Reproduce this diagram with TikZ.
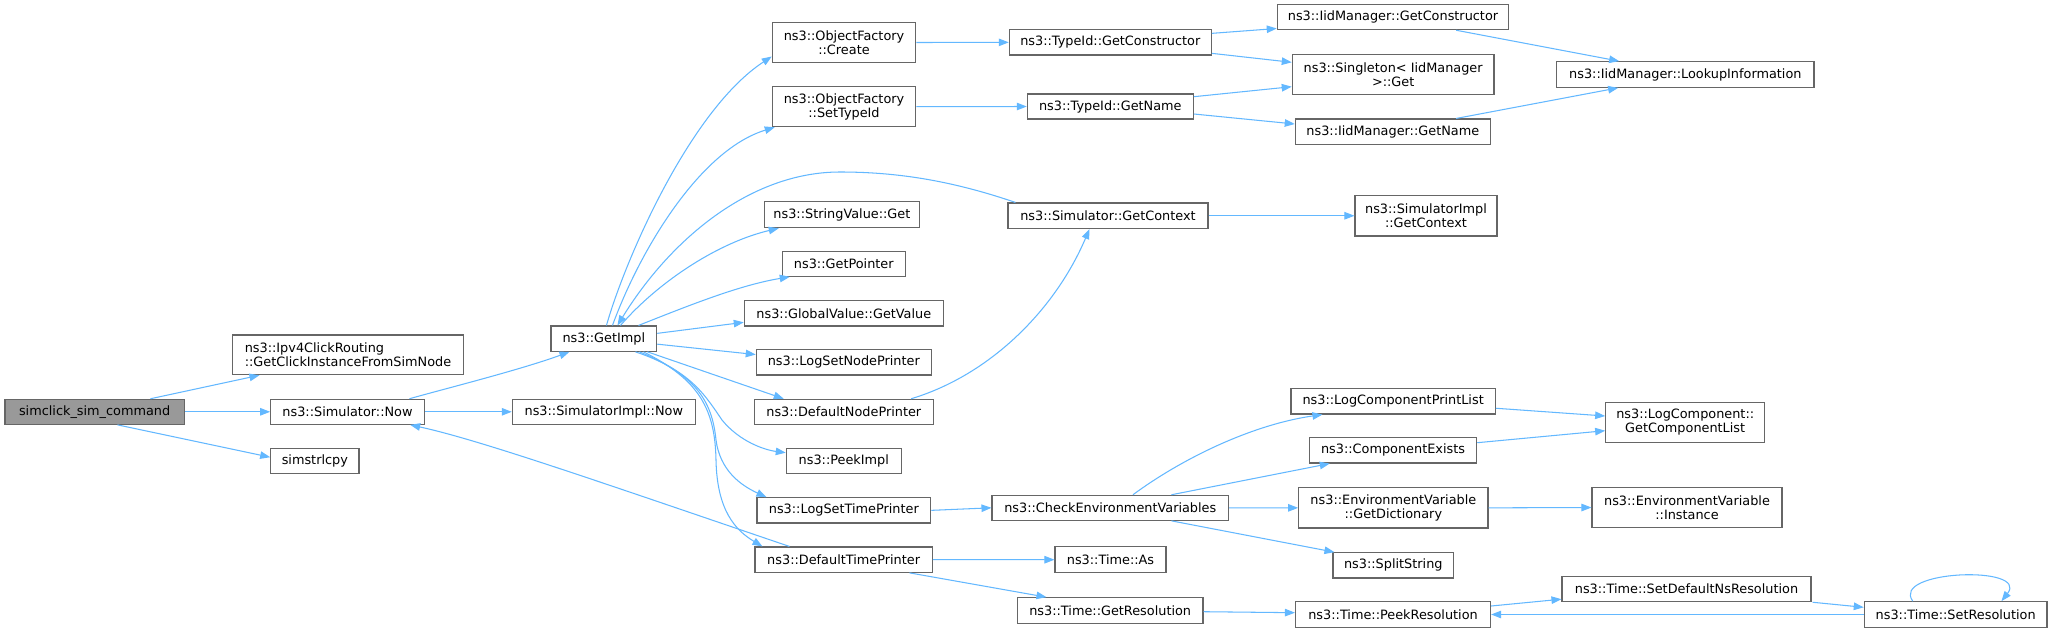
\documentclass[tikz,border=0pt]{standalone}
\usepackage{fontspec}
\setmainfont{DejaVu Sans}
\usetikzlibrary{arrows.meta}
\definecolor{edgeblue}{HTML}{63B8FF}
\definecolor{boxgray}{HTML}{666666}
\definecolor{rootfill}{HTML}{999999}
\newcommand\mkbox[7][]{\node[box,#1,minimum width={(#5)-(#3)},minimum height={(#6)-(#4)}] (#2) at ({((#3)+(#5))/2},{((#4)+(#6))/2}) {#7};}
\tikzset{
  box/.style={draw=boxgray, line width=1.1pt, fill=white, inner sep=0pt, align=center,
    font=\fontsize{12.85}{14}\selectfont},
  root/.style={fill=rootfill},
  edge/.style={draw=edgeblue, line width=1.05pt, -{Triangle[length=10pt,width=7.5pt]}}
}
\begin{document}
\begin{tikzpicture}[x=1pt,y=-1pt]
\fill[white] (0,0) rectangle (2051,632);
\useasboundingbox (0,0) rectangle (2051,632);
% nodes
\mkbox[root]{sim}{5}{399.3}{184.3}{424.3}{simclick\_sim\_command}
\mkbox[align=left]{ipv4}{232.7}{335}{463.3}{374.7}{ns3::Ipv4ClickRouting\\::GetClickInstanceFromSimNode}
\mkbox{now}{270.7}{399.3}{424.3}{424.3}{ns3::Simulator::Now}
\mkbox{strl}{270.7}{448.7}{359}{473.7}{simstrlcpy}
\mkbox{impl}{551}{326}{656.7}{351.3}{ns3::GetImpl}
\mkbox{sin}{512.3}{399.3}{695.3}{424.3}{ns3::SimulatorImpl::Now}
\mkbox{create}{772.3}{22.7}{915.7}{62.3}{ns3::ObjectFactory\\::Create}
\mkbox{settype}{772.3}{86.7}{915.7}{126.7}{ns3::ObjectFactory\\::SetTypeId}
\mkbox{strget}{764.3}{201.7}{919.5}{227.7}{ns3::StringValue::Get}
\mkbox{getptr}{782.3}{251.3}{905.3}{276.3}{ns3::GetPointer}
\mkbox{gval}{744.3}{300.7}{943.3}{326}{ns3::GlobalValue::GetValue}
\mkbox{lsnp}{756.3}{349.7}{931.3}{375}{ns3::LogSetNodePrinter}
\mkbox{dnp}{754.3}{399.3}{933.3}{424.3}{ns3::DefaultNodePrinter}
\mkbox{peek}{786.3}{448.7}{901.3}{473.7}{ns3::PeekImpl}
\mkbox{lstp}{757}{497.7}{930.7}{523}{ns3::LogSetTimePrinter}
\mkbox{dtp}{755}{547}{932.3}{572.3}{ns3::DefaultTimePrinter}
\mkbox{tgc}{1009.3}{29.7}{1211.3}{55}{ns3::TypeId::GetConstructor}
\mkbox{tgn}{1027.3}{94}{1193.3}{119}{ns3::TypeId::GetName}
\mkbox{sgc}{1008}{203}{1208}{228.5}{ns3::Simulator::GetContext}
\mkbox{cev}{992}{495.3}{1228.6}{520.3}{ns3::CheckEnvironmentVariables}
\mkbox{tas}{1055}{546.7}{1166}{572.7}{ns3::Time::As}
\mkbox{tgr}{1017.4}{597.7}{1203}{623.3}{ns3::Time::GetResolution}
\mkbox{igc}{1277.3}{4.3}{1508.7}{29.7}{ns3::IidManager::GetConstructor}
\mkbox{sing}{1292.3}{54.3}{1494}{94.7}{ns3::Singleton< IidManager\\>::Get}
\mkbox{ign}{1295.3}{119}{1490.3}{144.7}{ns3::IidManager::GetName}
\mkbox{sigc}{1355}{195.5}{1497}{236}{ns3::SimulatorImpl\\::GetContext}
\mkbox{lcpl}{1291}{388.3}{1495.3}{414}{ns3::LogComponentPrintList}
\mkbox{cex}{1309.3}{437.7}{1476.7}{463}{ns3::ComponentExists}
\mkbox{evgd}{1298.7}{487.7}{1488}{528}{ns3::EnvironmentVariable\\::GetDictionary}
\mkbox{split}{1333}{552.7}{1453.6}{578}{ns3::SplitString}
\mkbox{peekres}{1295.5}{601.7}{1490.6}{627.3}{ns3::Time::PeekResolution}
\mkbox{lookup}{1556.7}{61.7}{1814}{87.3}{ns3::IidManager::LookupInformation}
\mkbox{gcl}{1605.7}{402.3}{1764.7}{442.7}{ns3::LogComponent::\\GetComponentList}
\mkbox{evinst}{1592}{487.7}{1782}{527.3}{ns3::EnvironmentVariable\\::Instance}
\mkbox{sdns}{1562}{576.7}{1811}{601.7}{ns3::Time::SetDefaultNsResolution}
\mkbox{setres}{1864.3}{601.7}{2047}{627.3}{ns3::Time::SetResolution}
% edges
\draw[edge] ([xshift=146pt]sim.north west) -- ([xshift=27.3pt]ipv4.south west);
\draw[edge] (sim.east) -- (now.west);
\draw[edge] ([xshift=113pt]sim.south west) -- ([yshift=4pt]strl.west);
\draw[edge] ([xshift=139.3pt]now.north west) .. controls (440,390) and (520,370) .. ([xshift=19pt]impl.south west);
\draw[edge] (now.east) -- (sin.west);
\draw[edge] ([xshift=56pt]impl.north west) .. controls (625,260) and (690,110) .. ([yshift=-14pt]create.west);
\draw[edge] ([xshift=62pt]impl.north west) .. controls (640,250) and (700,150) .. ([xshift=3pt]settype.south west);
\draw[edge] ([xshift=8pt]sgc.north west) .. controls (950,180) and (895,172) .. (840,172) .. controls (750,172) and (670,240) .. ([xshift=67pt]impl.north west);
\draw[edge] ([xshift=70pt]impl.north west) .. controls (660,280) and (720,242) .. ([xshift=15pt]strget.south west);
\draw[edge] ([xshift=88pt]impl.north west) .. controls (690,305) and (740,285) .. ([xshift=8pt]getptr.south west);
\draw[edge] ([yshift=5.3pt]impl.east) -- ([yshift=-9pt]gval.west);
\draw[edge] ([yshift=-5.5pt]impl.east) -- ([yshift=7.8pt]lsnp.west);
\draw[edge] ([xshift=97pt]impl.south west) -- ([xshift=30pt]dnp.north west);
\draw[edge] ([xshift=85pt]impl.south west) .. controls (690,370) and (705,395) .. (722,420) .. controls (740,442) and (765,450) .. ([yshift=8.5pt]peek.west);
\draw[edge] ([xshift=89pt]impl.south west) .. controls (695,375) and (712,400) .. (716,440) .. controls (720,470) and (740,485) .. ([xshift=10pt]lstp.north west);
\draw[edge] ([xshift=93pt]impl.south west) .. controls (700,380) and (715,410) .. (716,460) .. controls (717,510) and (735,530) .. ([xshift=8pt]dtp.north west);
\draw[edge] ([xshift=35pt]dtp.north west) .. controls (600,482) and (480,440) .. ([xshift=140pt]now.south west);
\draw[edge] (create.east) -- (tgc.west);
\draw[edge] (settype.east) -- (tgn.west);
\draw[edge] ([yshift=9pt]tgc.east) -- ([yshift=-11.5pt]igc.west);
\draw[edge] ([yshift=-11pt]tgc.east) -- ([yshift=12.2pt]sing.west);
\draw[edge] ([yshift=9.8pt]tgn.east) -- ([yshift=-12.2pt]sing.west);
\draw[edge] ([yshift=-7.5pt]tgn.east) -- ([yshift=7.85pt]ign.west);
\draw[edge] ([xshift=179.4pt]igc.south west) -- ([xshift=63pt]lookup.north west);
\draw[edge] ([xshift=161.4pt]ign.north west) -- ([xshift=62pt]lookup.south west);
\draw[edge] (sgc.east) -- (sigc.west);
\draw[edge] ([xshift=157.4pt]dnp.north west) .. controls (990,375) and (1055,310) .. ([xshift=82pt]sgc.south west);
\draw[edge] (lstp.east) -- (cev.west);
\draw[edge] ([xshift=141.5pt]cev.north west) .. controls (1180,460) and (1250,425) .. ([xshift=32pt]lcpl.south west);
\draw[edge] ([xshift=180pt]cev.north west) -- ([xshift=21pt]cex.south west);
\draw[edge] (cev.east) -- (evgd.west);
\draw[edge] ([xshift=180pt]cev.south west) -- ([xshift=2pt]split.north west);
\draw[edge] ([yshift=-7.1pt]lcpl.east) -- ([yshift=6.5pt]gcl.west);
\draw[edge] ([yshift=7.65pt]cex.east) -- ([yshift=-8.2pt]gcl.west);
\draw[edge] (evgd.east) -- (evinst.west);
\draw[edge] (dtp.east) -- (tas.west);
\draw[edge] ([xshift=155pt]dtp.south west) -- ([xshift=29.6pt]tgr.north west);
\draw[edge] ([yshift=-1.2pt]tgr.east) -- ([yshift=1.8pt]peekres.west);
\draw[edge] ([yshift=8.5pt]peekres.east) -- ([yshift=-10pt]sdns.west);
\draw[edge] ([xshift=1pt]sdns.south east) -- ([yshift=7.2pt]setres.west);
\draw[edge] (setres.west) -- (peekres.east);
\draw[edge] ([xshift=49pt]setres.north west) .. controls (1890,570) and (2030,565) .. ([xshift=137.7pt]setres.north west);
\end{tikzpicture}
\end{document}
